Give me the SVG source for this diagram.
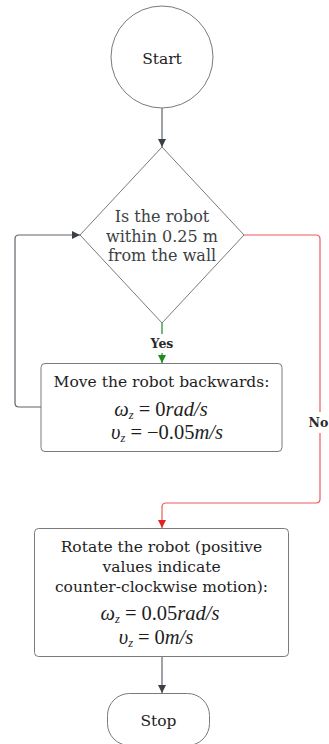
<svg xmlns="http://www.w3.org/2000/svg" width="329" height="744" viewBox="0 0 329 744">
  <style>
    .shape { fill: #ffffff; stroke: #7a7a7a; stroke-width: 1; }
    .label { font-family: "DejaVu Serif", "Liberation Serif", serif; font-size: 15.5px; fill: #1e1e1e; text-anchor: middle; }
    .q { fill: #3c3f44; font-size: 16px; }
    .math { font-family: "Liberation Serif", "DejaVu Serif", serif; font-size: 20.5px; fill: #1e1e1e; text-anchor: middle; }
    .it { font-style: italic; }
    .sub { font-style: italic; font-size: 12.5px; }
    .edge { fill: none; stroke: #5f636b; stroke-width: 1.2; }
    .yes { fill: none; stroke: #1f8a1f; stroke-width: 1.2; }
    .no { fill: none; stroke: #ee5a5a; stroke-width: 1.2; }
    .elabel { font-family: "DejaVu Serif", "Liberation Serif", serif; font-size: 12.5px; font-weight: bold; fill: #2a2a2a; text-anchor: middle; }
  </style>
  <defs>
    <marker id="arrow-dark" viewBox="0 0 10 10" refX="10" refY="5" markerWidth="8" markerHeight="10" markerUnits="userSpaceOnUse" orient="auto">
      <path d="M0,0 L10,5 L0,10 z" fill="#3a3f48"/>
    </marker>
    <marker id="arrow-green" viewBox="0 0 10 10" refX="10" refY="5" markerWidth="8" markerHeight="10" markerUnits="userSpaceOnUse" orient="auto">
      <path d="M0,0 L10,5 L0,10 z" fill="#1f8a1f"/>
    </marker>
    <marker id="arrow-red" viewBox="0 0 10 10" refX="10" refY="5" markerWidth="8" markerHeight="10" markerUnits="userSpaceOnUse" orient="auto">
      <path d="M0,0 L10,5 L0,10 z" fill="#e02424"/>
    </marker>
  </defs>

  <!-- connectors -->
  <g id="connectors">
    <path class="edge" d="M162,108 L162,147" marker-end="url(#arrow-dark)"/>
    <path class="yes" d="M162,323 L162,334 M162,353 L162,363" marker-end="url(#arrow-green)"/>
    <path class="edge" d="M41,407 L19,407 Q15,407 15,403 L15,239 Q15,235 19,235 L80,235" marker-end="url(#arrow-dark)"/>
    <path class="no" d="M244,235 L316,235 Q320,235 320,239 L320,412 M320,433 L320,499 Q320,503 316,503 L166,503 Q162,503 162,507 L162,528" marker-end="url(#arrow-red)"/>
    <path class="edge" d="M162,657 L162,693" marker-end="url(#arrow-dark)"/>
    <text class="elabel" x="162" y="347.5">Yes</text>
    <text class="elabel" x="318.5" y="427">No</text>
  </g>

  <g id="start">
    <circle class="shape" cx="162" cy="57" r="51"/>
    <text class="label" x="162" y="64">Start</text>
  </g>

  <g id="check-distance">
    <polygon class="shape" points="162,147 244,235 162,323 80,235"/>
    <text class="label q" x="162" y="222">Is the robot</text>
    <text class="label q" x="162" y="241.5">within 0.25 m</text>
    <text class="label q" x="162" y="261">from the wall</text>
  </g>

  <g id="move-backwards">
    <rect class="shape" x="41" y="363.5" width="241" height="88" rx="4"/>
    <text class="label" x="161.5" y="387">Move the robot backwards:</text>
    <text class="math" x="161" y="416"><tspan class="it">ω</tspan><tspan class="sub" dy="3">z</tspan><tspan dy="-3" dx="5">=</tspan><tspan dx="5">0</tspan><tspan class="it">rad/s</tspan></text>
    <text class="math" x="167" y="439"><tspan class="it">υ</tspan><tspan class="sub" dy="3">z</tspan><tspan dy="-3" dx="5">=</tspan><tspan dx="5">−0.05</tspan><tspan class="it">m/s</tspan></text>
  </g>

  <g id="rotate">
    <rect class="shape" x="34.5" y="528.5" width="254" height="128" rx="4"/>
    <text class="label" x="161.5" y="552">Rotate the robot (positive</text>
    <text class="label" x="161.5" y="572">values indicate</text>
    <text class="label" x="161.5" y="592">counter-clockwise motion):</text>
    <text class="math" x="160" y="620"><tspan class="it">ω</tspan><tspan class="sub" dy="3">z</tspan><tspan dy="-3" dx="5">=</tspan><tspan dx="5">0.05</tspan><tspan class="it">rad/s</tspan></text>
    <text class="math" x="156" y="643.5"><tspan class="it">υ</tspan><tspan class="sub" dy="3">z</tspan><tspan dy="-3" dx="5">=</tspan><tspan dx="5">0</tspan><tspan class="it">m/s</tspan></text>
  </g>

  <g id="stop">
    <rect class="shape" x="107.5" y="693.5" width="102" height="52" rx="22"/>
    <text class="label" x="158.5" y="726">Stop</text>
  </g>
</svg>
